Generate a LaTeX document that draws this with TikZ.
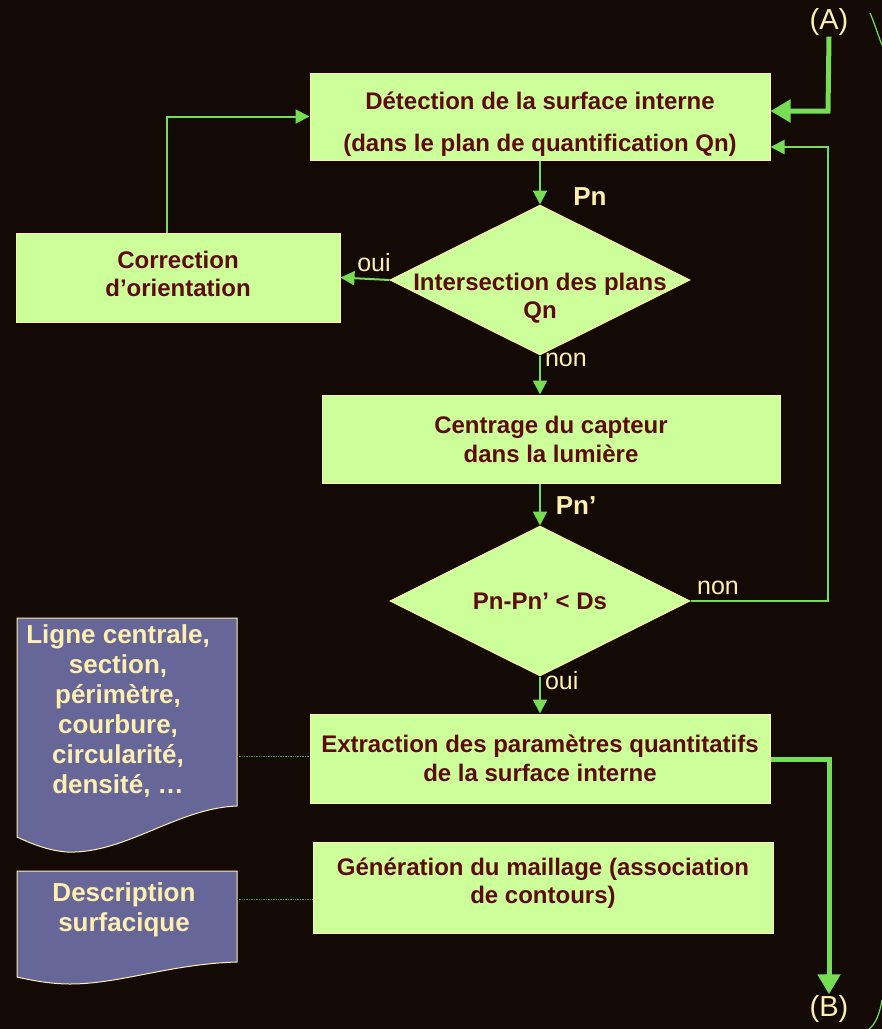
\documentclass[tikz,border=0pt]{standalone}
\usepackage{fontspec}
\setmainfont{Liberation Sans}
\usetikzlibrary{shapes.geometric,arrows.meta}
\definecolor{fond}{HTML}{130A06}
\definecolor{vert}{HTML}{CCFF99}
\definecolor{fleche}{HTML}{77DD55}
\definecolor{creme}{HTML}{FFF0B0}
\definecolor{brun}{HTML}{5C0A0A}
\definecolor{mauve}{HTML}{666699}
\tikzset{
  boite/.style={draw=creme, line width=1pt, fill=vert, text=brun, font=\fontsize{24}{29}\selectfont\bfseries, align=center, inner sep=0pt},
  decision/.style={boite, shape=diamond, minimum width=300pt, minimum height=150pt},
  dtext/.style={text=brun, font=\fontsize{24}{28}\selectfont\bfseries, align=center},
  etiq/.style={text=creme, font=\fontsize{25}{28}\selectfont, inner sep=1pt},
  etiqb/.style={etiq, font=\fontsize{26}{28}\selectfont\bfseries},
  fl/.style={fleche, line width=2pt, -{Triangle[length=14pt,width=14pt]}},
  flg/.style={fleche, line width=5pt, -{Triangle[length=20pt,width=22pt]}},
  doc/.style={draw=creme, line width=1pt, fill=mauve},
  doctext/.style={text=creme, font=\fontsize{26}{30}\selectfont\bfseries, align=center},
  pointille/.style={fleche!70!black, line width=0.7pt, densely dotted}
}
\begin{document}
\begin{tikzpicture}[x=1pt, y=-1pt]
  \useasboundingbox[fill=fond] (0,0) rectangle (882,1029);

  \node[boite, minimum width=460pt, minimum height=87pt, label={[dtext, yshift=-8pt]center:D\'etection de la surface interne\\[14pt](dans le plan de quantification Qn)}] (detect) at (540,116.5) {};
  \node[decision, label={[dtext, yshift=-18pt]center:Intersection des plans\\Qn}] (inter) at (540,280) {};
  \node[boite, minimum width=324pt, minimum height=89pt, label={[dtext, yshift=4pt]center:Correction\\d’orientation}] (correc) at (178,277.5) {};
  \node[boite, minimum width=458pt, minimum height=88pt] (centre) at (551,439) {Centrage du capteur\\dans la lumi\`ere};
  \node[decision, label={[dtext]center:Pn-Pn’ < Ds}] (test) at (540,601) {};
  \node[boite, minimum width=460pt, minimum height=89pt] (extrac) at (540,758.5) {Extraction des param\`etres quantitatifs\\de la surface interne};
  \node[boite, minimum width=460pt, minimum height=91pt, label={[dtext, yshift=4pt]center:G\'en\'eration du maillage (association\\de contours)}] (maill) at (543,887.5) {};

  \node[etiq, font=\fontsize{29}{30}\selectfont] (A) at (829,22) {(A)};
  \node[etiq, font=\fontsize{29}{30}\selectfont] (B) at (829,1009) {(B)};

  \node[etiqb] (pn) at (590,197) {Pn};
  \node[etiqb] (pnp) at (576,506) {Pn’};

  \draw[fl] (detect) -- (inter.north);
  \draw[fl] (inter.west) -- (correc.east) node[etiq, midway, above=5pt, xshift=9pt] {oui};
  \draw[fl] (correc.north -| 167,0) |- (detect.west);
  \draw[fl] (inter.south) -- (centre.north -| inter.south) node[etiq, pos=0.12, right=3pt] {non};
  \draw[fl] (centre.south -| test.north) -- (test.north);
  \draw[fl] (test.south) -- (extrac.north) node[etiq, pos=0.12, right=3pt] {oui};
  \draw[fl] (test.east) -- (828,601) node[etiq, pos=0.2, above=4pt] {non} |- ([yshift=-30.5pt]detect.east);
  \draw[flg] (A.south) -- (828,111) -- ([yshift=5.5pt]detect.east);
  \draw[flg] ([yshift=-0.5pt]extrac.east) -| (B.north);

  \draw[fleche, line width=1.2pt] (870,13) .. controls (874,22) and (878,35) .. (882,45);
  \draw[fleche, line width=1.2pt] (869,1029) .. controls (876,1024) and (880,1012) .. (882,1000);

  \draw[doc] (17,618) -- (237,618) -- (237,806) .. controls (180,808) and (130,850) .. (75,852) .. controls (60,853) and (40,848) .. (17,837) -- cycle;
  \node[doctext] (param) at (118,711) {Ligne centrale,\\section,\\p\'erim\`etre,\\courbure,\\circularit\'e,\\densit\'e, …};
  \draw[doc] (17,871) -- (237,871) -- (237,962) .. controls (170,964) and (120,984) .. (70,984) .. controls (50,984) and (30,980) .. (17,977) -- cycle;
  \node[doctext] (surf) at (124,910) {Description\\surfacique};

  \draw[pointille] (237,756) -- (extrac.west |- 0,756);
  \draw[pointille] (237,899) -- (maill.west |- 0,899);
\end{tikzpicture}
\end{document}
